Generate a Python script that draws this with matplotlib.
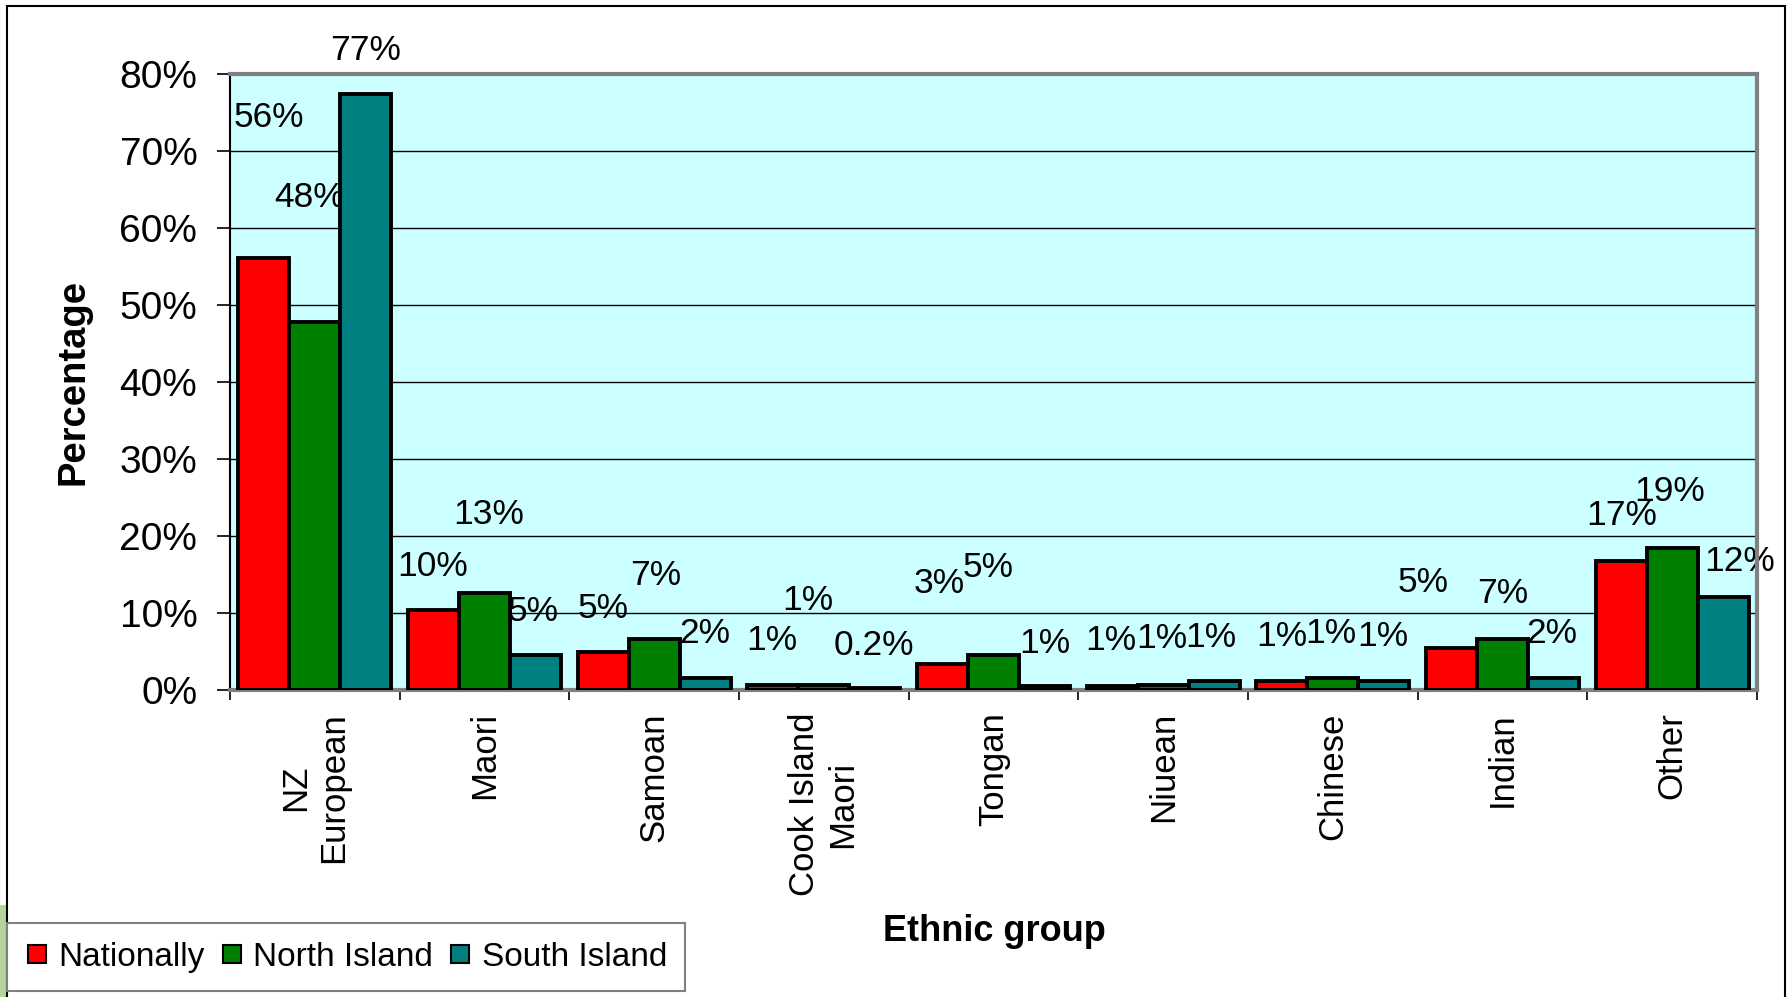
import numpy as np
import matplotlib
matplotlib.use('Agg')
import matplotlib.pyplot as plt
from matplotlib.patches import Rectangle
from matplotlib.lines import Line2D
from matplotlib.ticker import FixedLocator, FuncFormatter, NullFormatter

plt.rcParams['font.family'] = ['Liberation Sans', 'DejaVu Sans']

groups = ['NZ\nEuropean', 'Maori', 'Samoan', 'Cook Island\nMaori', 'Tongan',
          'Niuean', 'Chinese', 'Indian', 'Other']
series = ['Nationally', 'North Island', 'South Island']

# percentages
nat = [56.1, 10.4, 5.0, 0.7, 3.4, 0.5, 1.2, 5.4, 16.7]
north = [47.8, 12.6, 6.6, 0.7, 4.6, 0.7, 1.6, 6.6, 18.4]
south = [77.4, 4.6, 1.6, 0.2, 0.5, 1.2, 1.2, 1.6, 12.1]

nat_lbl = ['56%', '10%', '5%', '1%', '3%', '1%', '1%', '5%', '17%']
north_lbl = ['48%', '13%', '7%', '1%', '5%', '1%', '1%', '7%', '19%']
south_lbl = ['77%', '5%', '2%', '0.2%', '1%', '1%', '1%', '2%', '12%']

yticks = [0, 10, 20, 30, 40, 50, 60, 70, 80]

# label offsets (pixels) from the top of each bar, as placed in the original
nat_dx = [5, -1, 0, -1, -3, -1, 0, -28, 0]
nat_dy = [141, 43, 43, 44, 80, 46, 44, 66, 46]
north_dx = [-5, 4, 2, -16, -5, -1, -2, 0, -3]
north_dy = [124, 78, 64, 84, 87, 46, 44, 46, 57]
south_dx = [0, -2, 0, -1, 0, -3, -1, -2, 17]
south_dy = [44, 43, 44, 43, 43, 43, 44, 44, 35]

colors = ['#FF0000', '#008000', '#008080']

W, H = 1787, 997
fig = plt.figure(figsize=(W / 100, H / 100), dpi=100, facecolor='white')

# slide decoration + outer chart frame
fig.patches.append(Rectangle((0, 0), 6 / W, 92 / H, transform=fig.transFigure,
                             facecolor='#B7D39B', edgecolor='none', zorder=0))
fig.patches.append(Rectangle((7 / W, -0.05), 1778 / W, 1.05 - 6 / H,
                             transform=fig.transFigure, facecolor='none',
                             edgecolor='black', lw=1.5, zorder=1))

ax = fig.add_axes([230 / W, 1 - 690 / H, 1527 / W, 616 / H])
ax.set_facecolor('#CCFFFF')

x = np.arange(len(groups))
bw = 0.3
data = [nat, north, south]
lbls = [nat_lbl, north_lbl, south_lbl]
dxs = [nat_dx, north_dx, south_dx]
dys = [nat_dy, north_dy, south_dy]

for j in range(3):
    xs = x + (j - 1) * bw
    ax.bar(xs, data[j], width=bw, color=colors[j], edgecolor='black',
           linewidth=2.8, zorder=3, label=series[j])
    for i in range(len(groups)):
        ax.annotate(lbls[j][i], xy=(xs[i], data[j][i]),
                    xytext=(dxs[j][i], dys[j][i]), textcoords='offset pixels',
                    ha='center', va='center', fontsize=25.5, color='black',
                    zorder=2, annotation_clip=False)

ax.set_xlim(-0.5, len(groups) - 0.5)
ax.set_ylim(0, 80)
ax.set_yticks(yticks)
ax.yaxis.set_major_formatter(FuncFormatter(lambda v, p: '%d%%' % v))
ax.tick_params(axis='y', direction='out', length=9.5, width=1.2,
               labelsize=28, pad=14, color='black')

ax.xaxis.set_major_locator(FixedLocator(np.arange(len(groups) + 1) - 0.5))
ax.xaxis.set_major_formatter(NullFormatter())
ax.xaxis.set_minor_locator(FixedLocator(x))
ax.set_xticklabels(groups, minor=True, rotation=90, fontsize=25,
                   ha='center', va='top', multialignment='center')
ax.tick_params(axis='x', which='major', direction='out', length=7, width=1.2)
ax.tick_params(axis='x', which='minor', length=0, pad=16)

ax.grid(axis='y', color='black', lw=1, zorder=1)
ax.set_axisbelow(True)

for s in ['top', 'right', 'bottom']:
    ax.spines[s].set_color('#808080')
    ax.spines[s].set_linewidth(3)
ax.spines['left'].set_color('black')
ax.spines['left'].set_linewidth(1.5)

fig.text(74 / W, 1 - 382 / H, 'Percentage', rotation=90, ha='center',
         va='center', fontsize=27.5, fontweight='bold')
fig.text(994 / W, 1 - 931 / H, 'Ethnic group', ha='center', va='center',
         fontsize=26, fontweight='bold')

handles = [Line2D([], [], marker='s', linestyle='none', markersize=13,
                  markerfacecolor=c, markeredgecolor='black',
                  markeredgewidth=1.5) for c in colors]
leg = fig.legend(handles, series, loc='lower left',
                 bbox_to_anchor=(7 / W, 1 - 991 / H), ncol=3, fontsize=24,
                 frameon=True, fancybox=False, edgecolor='#808080',
                 framealpha=1, handlelength=0.7, handletextpad=0.3,
                 columnspacing=0.45, borderpad=0.55, borderaxespad=0)
leg.get_frame().set_linewidth(1.5)

fig.savefig('out.png', dpi=100, facecolor='white')
